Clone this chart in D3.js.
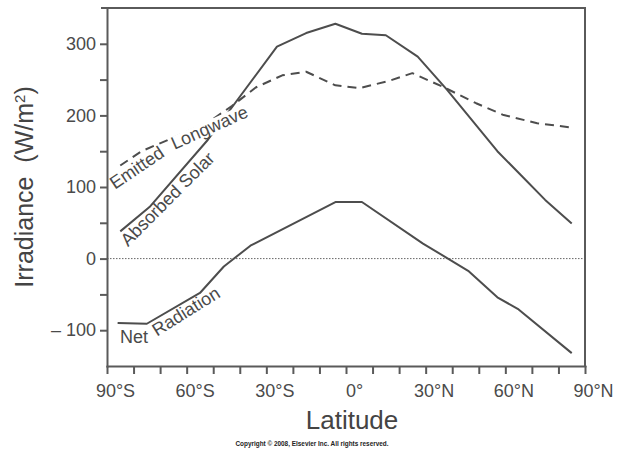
<!DOCTYPE html>
<html>
<head>
<meta charset="utf-8">
<script src="https://cdn.jsdelivr.net/npm/d3@7"></script>
<style>
  body { margin: 0; background: #fff; }
  svg { display: block; font-family: "Liberation Sans", Arial, sans-serif; }
  .axis path, .axis line { stroke: #5a5a5a; stroke-width: 2px; }
  .axis text { font-size: 18px; fill: #4a4a4a; font-family: "Liberation Sans", Arial, sans-serif; }
  .curve { fill: none; stroke: #4d4d4d; stroke-width: 2px; stroke-linejoin: round; }
  .lbl { font-size: 18px; fill: #4a4a4a; }
</style>
</head>
<body>
<svg id="chart" width="620" height="455"></svg>
<script>
// latitude of each vertex (deg, S negative) and irradiance in W/m2
var solarLat = [-85, -74, -52, -26, -15, -4, 6, 15, 27, 38, 57, 66, 75, 85];
var solarVal = [38, 72, 166, 296, 315, 328, 314, 312, 282, 236, 150, 116, 82, 49];

var longwaveLat = [-85, -77, -65, -52, -43, -34, -24, -15, -4, 5, 16, 25, 37, 49, 59, 72, 85];
var longwaveVal = [130, 150, 169, 190, 213, 239, 256, 261, 242, 238, 248, 259, 239, 217, 201, 189, 183];

var netLat = [-86, -75, -55, -46, -36, -4, 6, 29, 46, 57, 65, 85];
var netVal = [-90, -91, -48, -11, 18, 79, 79, 21, -17, -54, -71, -132];

var latTicks = [-90, -80, -70, -60, -50, -40, -30, -20, -10, 0, 10, 20, 30, 40, 50, 60, 70, 80, 90];
var irrTicks = [-100, -50, 0, 50, 100, 150, 200, 250, 300];

var svg = d3.select('#chart');

var x = d3.scaleLinear().domain([-90, 90]).range([107, 585]);
var y = d3.scaleLinear().domain([-150, 350]).range([366, 8]);

function pts(lats, vals) {
  return lats.map(function(d, i) { return {lat: d, v: vals[i]}; });
}

var line = d3.line()
  .x(function(d) { return x(d.lat); })
  .y(function(d) { return y(d.v); });

// zero line
svg.append('line')
  .attr('x1', x(-90)).attr('x2', x(90))
  .attr('y1', y(0)).attr('y2', y(0))
  .style('stroke', '#666')
  .style('stroke-width', 1)
  .style('stroke-dasharray', '1.5,1.5');

// frame top / right
svg.append('path')
  .attr('d', 'M' + (x(-90) - 6) + ',' + y(350) + 'H' + x(90) + 'V' + y(-150))
  .style('fill', 'none')
  .style('stroke', '#5a5a5a')
  .style('stroke-width', 2);

svg.append('g')
  .attr('class', 'axis')
  .attr('transform', 'translate(0,' + y(-150) + ')')
  .call(d3.axisBottom(x)
    .tickValues(latTicks)
    .tickSize(8)
    .tickSizeOuter(0)
    .tickPadding(6)
    .tickFormat(function(d) {
      if (d % 30 !== 0) return '';
      if (d === 0) return '0°';
      return Math.abs(d) + '°' + (d < 0 ? 'S' : 'N');
    }))
  .selectAll('text')
    .attr('dx', 8)
    .attr('dy', '0.95em');

svg.append('g')
  .attr('class', 'axis')
  .attr('transform', 'translate(' + x(-90) + ',0)')
  .call(d3.axisLeft(y)
    .tickValues(irrTicks)
    .tickSize(7)
    .tickSizeOuter(0)
    .tickPadding(4)
    .tickFormat(function(d) {
      if (d % 100 !== 0) return '';
      return d < 0 ? '– ' + (-d) : d;
    }));

svg.selectAll('.axis .domain').style('stroke-linecap', 'square');

svg.append('path')
  .datum(pts(solarLat, solarVal))
  .attr('class', 'curve')
  .attr('d', line);

svg.append('path')
  .datum(pts(longwaveLat, longwaveVal))
  .attr('class', 'curve')
  .style('stroke-dasharray', '9,6')
  .attr('d', line);

svg.append('path')
  .datum(pts(netLat, netVal))
  .attr('class', 'curve')
  .attr('d', line);

// curve labels; knockout = white patch so the line breaks behind the word
function label(txt, lat, v, angle, knockout) {
  var g = svg.append('g')
    .attr('transform', 'translate(' + x(lat) + ',' + y(v) + ') rotate(' + angle + ')');
  var bg = knockout ? g.append('rect').style('fill', '#fff') : null;
  var t = g.append('text')
    .attr('class', 'lbl')
    .text(txt);
  if (bg) {
    var w = t.node().getComputedTextLength();
    bg.attr('x', -2).attr('y', -13).attr('width', w + 3).attr('height', 15);
  }
}
label('Emitted', -87, 96, -34, false);
label('Longwave', -64.6, 152, -24, true);
label('Absorbed Solar', -82.1, 16, -45, false);
label('Net', -85.1, -118, 0, false);
label('Radiation', -71.2, -109, -32, false);

// axis titles
svg.append('text')
  .attr('x', 352).attr('y', 429)
  .attr('text-anchor', 'middle')
  .style('font-size', '26px')
  .style('fill', '#444')
  .text('Latitude');

var yt = svg.append('text')
  .attr('transform', 'translate(33,187) rotate(-90)')
  .attr('text-anchor', 'middle')
  .style('font-size', '25px')
  .style('fill', '#444')
  .attr('xml:space', 'preserve');
yt.append('tspan').text('Irradiance  (W/m');
yt.append('tspan').attr('baseline-shift', 'super').style('font-size', '15px').text('2');
yt.append('tspan').text(')');

svg.append('text')
  .attr('x', 312).attr('y', 446)
  .attr('text-anchor', 'middle')
  .attr('textLength', 153)
  .attr('lengthAdjust', 'spacingAndGlyphs')
  .style('font-size', '7.5px')
  .style('font-weight', 'bold')
  .style('fill', '#222')
  .text('Copyright © 2008, Elsevier Inc. All rights reserved.');
</script>
</body>
</html>
